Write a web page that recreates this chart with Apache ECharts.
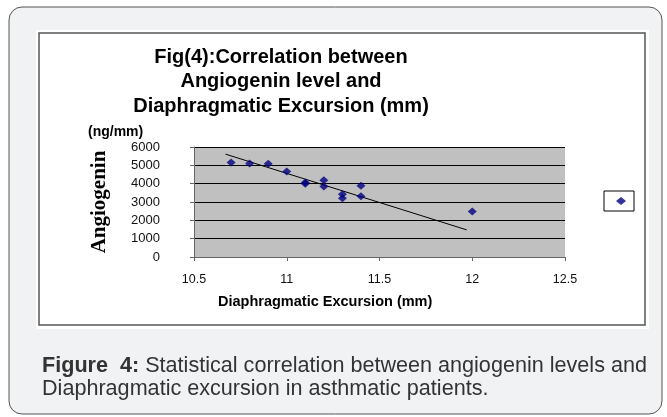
<!DOCTYPE html>
<html>
<head>
<meta charset="utf-8">
<script src="https://cdn.jsdelivr.net/npm/echarts@6/dist/echarts.min.js"></script>
<style>
  html, body { margin: 0; padding: 0; background: #fff; }
  #chart { width: 667px; height: 417px; }
</style>
</head>
<body>
<div id="chart"></div>
<script>
  // values: excursion (mm) -> angiogenin (ng/mm)
  const excursion = [10.7, 10.8, 10.9, 11.0, 11.1, 11.1, 11.2, 11.2, 11.3, 11.3, 11.4, 11.4, 12.0];
  const angiogenin = [5150, 5100, 5080, 4670, 4070, 3990, 4180, 3850, 3420, 3200, 3890, 3310, 2480];
  // end points of the drawn trend line
  const trendX = [10.67, 11.97];
  const trendY = [5610, 1480];
  // axis ticks
  const xTicks = [10.5, 11, 11.5, 12, 12.5];
  const yTicks = [0, 1000, 2000, 3000, 4000, 5000, 6000];

  const titleLines = ['Fig(4):Correlation between', 'Angiogenin level and', 'Diaphragmatic Excursion (mm)'];
  const caption = ['Statistical correlation between angiogenin levels and', 'Diaphragmatic excursion in asthmatic patients.'];

  const font = 'Arial, "Liberation Sans", sans-serif';

  const chart = echarts.init(document.getElementById('chart'));
  chart.setOption({
    animation: false,
    backgroundColor: '#fff',
    title: {
      text: titleLines.join('\n'),
      left: 281, top: 45, padding: 0,
      textAlign: 'center',
      textStyle: {fontFamily: font, fontSize: 20, fontWeight: 'bold', color: '#000', lineHeight: 24.5}
    },
    legend: {
      data: [{name: 'Angiogenin', icon: 'diamond'}],
      left: 604, top: 191,
      padding: [6, 8, 6, 12],
      itemWidth: 10, itemHeight: 8,
      borderColor: '#000', borderWidth: 1,
      formatter: () => '',
      textStyle: {fontSize: 8}
    },
    grid: {
      left: 194, right: 102, top: 147, height: 110,
      show: true, backgroundColor: '#c0c0c0', borderWidth: 0
    },
    xAxis: {
      type: 'value',
      min: xTicks[0], max: xTicks[xTicks.length - 1], interval: 0.5,
      axisLine: {lineStyle: {color: '#666', width: 1}},
      axisTick: {show: true, length: 4, lineStyle: {color: '#666'}},
      axisLabel: {fontFamily: font, fontSize: 12.5, color: '#111', margin: 16},
      splitLine: {show: false}
    },
    yAxis: {
      type: 'value',
      min: yTicks[0], max: yTicks[yTicks.length - 1], interval: 1000,
      name: 'Angiogenin',
      nameLocation: 'middle', nameRotate: 90, nameGap: 84,
      nameTextStyle: {fontFamily: '"Liberation Serif", "Times New Roman", serif', fontSize: 21, fontWeight: 'bold', color: '#000'},
      axisLine: {show: true, lineStyle: {color: '#666', width: 1}},
      axisTick: {show: true, length: 4, lineStyle: {color: '#666'}},
      axisLabel: {fontFamily: font, fontSize: 13, color: '#111', margin: 34, formatter: v => String(v)},
      splitLine: {lineStyle: {color: '#000', width: 1}}
    },
    series: [
      {
        name: 'Angiogenin',
        type: 'scatter',
        symbol: 'diamond',
        symbolSize: [9, 8],
        itemStyle: {color: '#000080'},
        data: excursion.map((x, i) => [x, angiogenin[i]]),
        z: 3
      },
      {
        name: 'Trend',
        type: 'line',
        showSymbol: false,
        lineStyle: {color: '#000', width: 1},
        data: trendX.map((x, i) => [x, trendY[i]]),
        z: 2
      }
    ],
    graphic: [
      // outer rounded frame
      {type: 'rect', z: -10, shape: {x: 9, y: 7, width: 653, height: 407, r: 13},
        style: {fill: '#f1f2f4', stroke: '#555', lineWidth: 1}},
      // white panel
      {type: 'rect', z: -9, shape: {x: 36, y: 30, width: 613, height: 299},
        style: {fill: '#fff'}},
      // chart border
      {type: 'rect', z: -8, shape: {x: 39, y: 33, width: 606, height: 292},
        style: {fill: 'none', stroke: '#555', lineWidth: 1.5}},
      {type: 'text', left: 88, top: 125,
        style: {text: '(ng/mm)', font: 'bold 14px ' + font, fill: '#000'}},
      {type: 'text', left: 218, top: 294,
        style: {text: 'Diaphragmatic Excursion (mm)', font: 'bold 14.5px ' + font, fill: '#000'}},
      {type: 'text', left: 42, top: 355,
        style: {
          text: '{b|Figure  4:} ' + caption[0] + '\n' + caption[1],
          font: '21.6px ' + font, fill: '#333', lineHeight: 23,
          rich: {b: {font: 'bold 21.6px ' + font, fill: '#333'}}
        }}
    ]
  });
</script>
</body>
</html>
